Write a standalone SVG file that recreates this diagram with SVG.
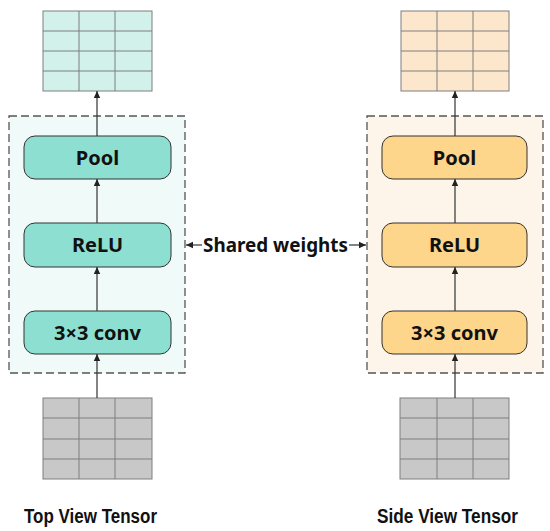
<svg xmlns="http://www.w3.org/2000/svg" width="550" height="531" viewBox="0 0 550 531">
<defs>
<style>
.grid line{stroke:#7f7f7f;stroke-width:1}
.gb{stroke:#7f7f7f;stroke-width:1}
.dash{stroke:#555;stroke-width:1.3;stroke-dasharray:8 4}
.node{stroke:#333;stroke-width:1}
.t{fill:#f0fbf9}
.o{fill:#fdf4ea}
.tn{fill:#8de0d1}
.on{fill:#fdd58b}
.lbl{font-family:"Noto Sans","Open Sans",sans-serif;font-weight:bold;font-size:20px;fill:#111;text-anchor:middle}
.cap{font-family:"Liberation Sans",Arial,sans-serif;font-weight:bold;font-size:20px;fill:#111}
.c line{stroke:#333;stroke-width:1.2;fill:none}
</style>
<marker id="ah" markerWidth="8" markerHeight="8" refX="7" refY="4" orient="auto" markerUnits="userSpaceOnUse">
<path d="M0,0.8 L7,4 L0,7.2 Z" fill="#222"/>
</marker>
</defs>
<rect width="550" height="531" fill="#fff"/>

<g id="left-container"><rect x="9" y="116" width="176" height="257" class="t dash"/></g>
<g id="right-container"><rect x="367" y="116" width="176" height="257" class="o dash"/></g>

<g id="top-out-grid" class="grid">
<rect x="43" y="11" width="109" height="80" fill="#d2f1ea" class="gb"/>
<line x1="79" y1="11" x2="79" y2="91"/><line x1="115" y1="11" x2="115" y2="91"/>
<line x1="43" y1="31" x2="152" y2="31"/><line x1="43" y1="51" x2="152" y2="51"/><line x1="43" y1="71" x2="152" y2="71"/>
</g>
<g id="side-out-grid" class="grid">
<rect x="401" y="11" width="108" height="80" fill="#fde7cc" class="gb"/>
<line x1="437" y1="11" x2="437" y2="91"/><line x1="473" y1="11" x2="473" y2="91"/>
<line x1="401" y1="31" x2="509" y2="31"/><line x1="401" y1="51" x2="509" y2="51"/><line x1="401" y1="71" x2="509" y2="71"/>
</g>
<g id="top-in-grid" class="grid">
<rect x="43" y="398" width="109" height="81" fill="#c8c8c8" class="gb"/>
<line x1="79" y1="398" x2="79" y2="479"/><line x1="115" y1="398" x2="115" y2="479"/>
<line x1="43" y1="418" x2="152" y2="418"/><line x1="43" y1="439" x2="152" y2="439"/><line x1="43" y1="459" x2="152" y2="459"/>
</g>
<g id="side-in-grid" class="grid">
<rect x="400" y="398" width="109" height="81" fill="#c8c8c8" class="gb"/>
<line x1="437" y1="398" x2="437" y2="479"/><line x1="473" y1="398" x2="473" y2="479"/>
<line x1="400" y1="418" x2="509" y2="418"/><line x1="400" y1="439" x2="509" y2="439"/><line x1="400" y1="459" x2="509" y2="459"/>
</g>

<g id="left-pool"><rect x="24" y="136" width="147" height="43" rx="11" class="node tn"/><text x="97.5" y="164.5" class="lbl">Pool</text></g>
<g id="left-relu"><rect x="24" y="223" width="147" height="44" rx="11" class="node tn"/><text x="97.5" y="252" class="lbl">ReLU</text></g>
<g id="left-conv"><rect x="24" y="311" width="147" height="43" rx="11" class="node tn"/><text x="97.5" y="339.5" class="lbl">3×3 conv</text></g>
<g id="right-pool"><rect x="382" y="136" width="145" height="43" rx="11" class="node on"/><text x="454.5" y="164.5" class="lbl">Pool</text></g>
<g id="right-relu"><rect x="382" y="223" width="145" height="44" rx="11" class="node on"/><text x="454.5" y="252" class="lbl">ReLU</text></g>
<g id="right-conv"><rect x="382" y="311" width="145" height="43" rx="11" class="node on"/><text x="454.5" y="339.5" class="lbl">3×3 conv</text></g>

<g id="connectors" class="c">
<line x1="97" y1="398" x2="97" y2="354" marker-end="url(#ah)"/>
<line x1="97" y1="311" x2="97" y2="267" marker-end="url(#ah)"/>
<line x1="97" y1="223" x2="97" y2="179" marker-end="url(#ah)"/>
<line x1="97" y1="136" x2="97" y2="91" marker-end="url(#ah)"/>
<line x1="455" y1="398" x2="455" y2="354" marker-end="url(#ah)"/>
<line x1="455" y1="311" x2="455" y2="267" marker-end="url(#ah)"/>
<line x1="455" y1="223" x2="455" y2="179" marker-end="url(#ah)"/>
<line x1="455" y1="136" x2="455" y2="91" marker-end="url(#ah)"/>
<line x1="202" y1="245" x2="186" y2="245" marker-end="url(#ah)"/>
<line x1="349" y1="245" x2="366" y2="245" marker-end="url(#ah)"/>
</g>
<text x="275.5" y="251.5" class="lbl" textLength="145" lengthAdjust="spacingAndGlyphs">Shared weights</text>

<text x="24" y="523" class="cap" textLength="133" lengthAdjust="spacingAndGlyphs">Top View Tensor</text>
<text x="377" y="523" class="cap" textLength="141" lengthAdjust="spacingAndGlyphs">Side View Tensor</text>
</svg>
